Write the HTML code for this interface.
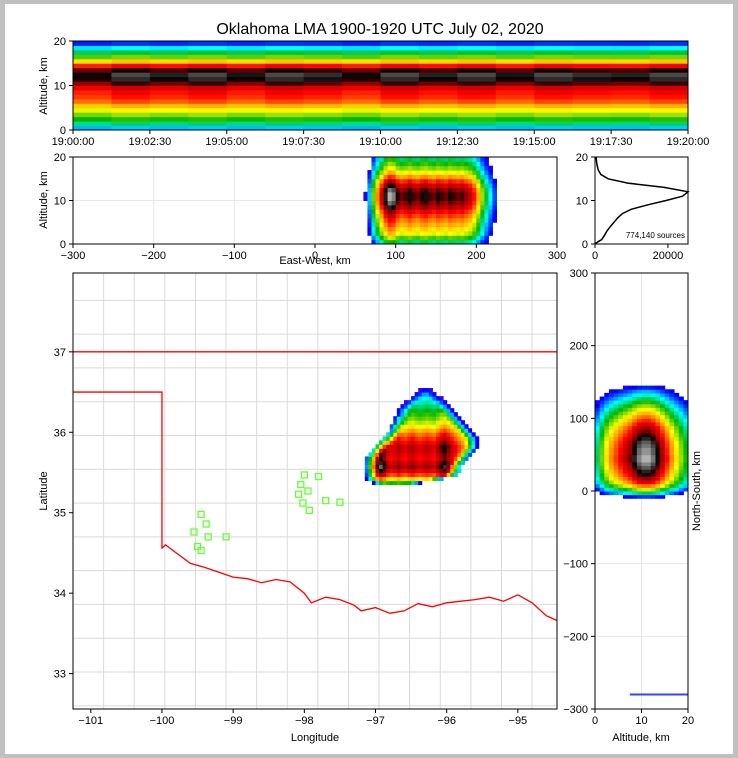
<!DOCTYPE html>
<html><head><meta charset="utf-8">
<style>
html,body{margin:0;padding:0;background:#c0c0c0;}
#wrap{position:absolute;left:5px;top:4px;width:728px;height:750px;background:#fff;}
svg{position:absolute;left:0;top:0;}
text{font-family:"Liberation Sans","DejaVu Sans",sans-serif;font-size:11px;fill:#000;}
</style></head>
<body>
<div id="wrap"></div>
<svg id="s" width="738" height="758"></svg>
<script>
// ---------- data ----------
const timeTicks=["19:00:00","19:02:30","19:05:00","19:07:30","19:10:00","19:12:30","19:15:00","19:17:30","19:20:00"];
const timeActivity=[0.95,1,0.97,1,0.96,1,0.98,0.95,1,0.97,1,0.96,1,0.98,0.97,1];
const topAltDensity=[0.2,0.28,0.34,0.4,0.46,0.52,0.6,0.64,0.66,0.7,0.8,0.86,0.88,0.82,0.66,0.5,0.38,0.3,0.22,0.14];
const ewBins=[60,65,70,75,80,85,90,95,100,105,110,115,120,125,130,135,140,145,150,155,160,165,170,175,180,185,190,195,200,205,210,215,220,225];
const ewProfile=[0.1,0.2,0.38,0.55,0.7,0.85,0.95,0.92,0.82,0.78,0.8,0.84,0.8,0.78,0.82,0.84,0.8,0.78,0.82,0.8,0.78,0.82,0.8,0.78,0.8,0.76,0.72,0.64,0.52,0.4,0.3,0.22,0.15,0.08];
const ewAltProfile=[0.35,0.45,0.55,0.6,0.65,0.7,0.76,0.82,0.9,0.96,1,1,0.96,0.88,0.78,0.66,0.56,0.48,0.42,0.36];
const histAlt=[0,0.5,1,2,3,4,5,6,7,8,9,10,11,12,13,14,15,16,17,18,19,20];
const histCount=[0,800,1800,2600,3300,4200,5200,6200,7500,10000,14500,19500,24000,25500,19000,9000,3600,1600,900,600,400,300];
const lonBins=[-97.15,-97.1,-97.05,-97,-96.95,-96.9,-96.85,-96.8,-96.75,-96.7,-96.65,-96.6,-96.55,-96.5,-96.45,-96.4,-96.35,-96.3,-96.25,-96.2,-96.15,-96.1,-96.05,-96,-95.95,-95.9,-95.85,-95.8,-95.75,-95.7,-95.65,-95.6];
const lonProfile=[0.55,0.7,0.82,0.92,0.98,0.92,0.82,0.78,0.8,0.84,0.8,0.78,0.82,0.84,0.8,0.78,0.8,0.82,0.8,0.78,0.84,0.9,0.94,0.88,0.82,0.76,0.7,0.64,0.58,0.52,0.46,0.4];
const latBins=[35.35,35.4,35.45,35.5,35.55,35.6,35.65,35.7,35.75,35.8,35.85,35.9,35.95,36.0,36.05,36.1,36.15,36.2,36.25,36.3,36.35,36.4,36.45,36.5,36.55];
const latProfile=[0.45,0.65,0.82,0.92,1,0.95,0.9,0.92,0.95,0.96,0.9,0.84,0.78,0.7,0.62,0.56,0.5,0.46,0.42,0.38,0.34,0.3,0.26,0.22,0.18];
const latRowWest=[-97.05,-97.15,-97.15,-97.15,-97.15,-97.15,-97.15,-97.1,-97.05,-97.0,-96.95,-96.9,-96.85,-96.8,-96.8,-96.75,-96.75,-96.7,-96.7,-96.65,-96.6,-96.55,-96.5,-96.45,-96.35];
const latRowEast=[-96.4,-96.1,-95.9,-95.85,-95.85,-95.8,-95.75,-95.7,-95.65,-95.6,-95.6,-95.6,-95.65,-95.7,-95.75,-95.8,-95.85,-95.9,-95.95,-96.0,-96.05,-96.1,-96.15,-96.2,-96.25];
const nsBins=[-10,-5,0,5,10,15,20,25,30,35,40,45,50,55,60,65,70,75,80,85,90,95,100,105,110,115,120,125,130,135,140];
const nsProfile=[0.15,0.3,0.45,0.6,0.72,0.8,0.86,0.9,0.94,0.97,1,1,0.98,0.98,0.96,0.94,0.9,0.86,0.82,0.78,0.72,0.66,0.6,0.54,0.48,0.42,0.36,0.3,0.25,0.2,0.14];
const nsAltProfile=[0.3,0.4,0.5,0.58,0.64,0.7,0.76,0.82,0.9,0.97,1,1,0.96,0.88,0.78,0.68,0.58,0.5,0.42,0.35];
const stationLon=[-99.45,-99.38,-99.55,-99.35,-99.5,-99.45,-99.1,-98.0,-98.05,-98.08,-97.93,-97.8,-97.7,-97.95,-98.02,-97.5];
const stationLat=[34.98,34.86,34.76,34.7,34.58,34.53,34.7,35.47,35.35,35.23,35.03,35.45,35.15,35.27,35.12,35.13];
const riverLon=[-100,-99.95,-99.8,-99.6,-99.4,-99.2,-99.0,-98.8,-98.6,-98.4,-98.2,-98.0,-97.9,-97.7,-97.5,-97.3,-97.2,-97.0,-96.8,-96.6,-96.4,-96.2,-96.0,-95.8,-95.6,-95.4,-95.2,-95.0,-94.8,-94.6,-94.45];
const riverLat=[34.56,34.6,34.5,34.37,34.32,34.26,34.2,34.18,34.13,34.17,34.14,34.0,33.88,33.95,33.92,33.85,33.78,33.82,33.75,33.78,33.87,33.83,33.88,33.9,33.92,33.95,33.9,33.98,33.88,33.72,33.66];
const latTicks=[33,34,35,36,37];
const lonTicks=[-101,-100,-99,-98,-97,-96,-95];

// ---------- helpers ----------
const S=document.getElementById('s');const NS='http://www.w3.org/2000/svg';
function mk(tag,at,parent){const e=document.createElementNS(NS,tag);for(const k in at)e.setAttribute(k,at[k]);(parent||S).appendChild(e);return e;}
const stops=[[0,[192,0,255]],[0.12,[0,0,255]],[0.22,[0,255,255]],[0.32,[0,180,0]],[0.45,[255,255,0]],[0.55,[255,140,0]],[0.65,[255,0,0]],[0.76,[150,0,0]],[0.83,[0,0,0]],[0.92,[130,130,130]],[1,[255,255,255]]];
function cmap(t){t=Math.max(0,Math.min(1,t));for(let i=1;i<stops.length;i++){if(t<=stops[i][0]){const a=stops[i-1],b=stops[i],f=(t-a[0])/(b[0]-a[0]);const c=a[1].map((v,k)=>Math.round(v+(b[1][k]-v)*f));return 'rgb('+c.join(',')+')';}}return '#fff';}
function lin(d0,d1,r0,r1){return v=>r0+(v-d0)/(d1-d0)*(r1-r0);}
function txt(x,y,s,opt){const t=mk('text',Object.assign({x:x,y:y},opt||{}));t.textContent=s;return t;}
function frame(x0,y0,x1,y1,name){const r=mk('rect',{x:x0,y:y0,width:x1-x0,height:y1-y0,fill:'none',stroke:'#000','stroke-width':1});}
function tickX(x,y,label,name){mk('line',{x1:x,x2:x,y1:y,y2:y+4,stroke:'#000'});const t=txt(x,y+15,label,{'text-anchor':'middle'});}
function tickY(x,y,label,name){mk('line',{x1:x-4,x2:x,y1:y,y2:y,stroke:'#000'});const t=txt(x-7,y+4,label,{'text-anchor':'end'});}
function grid(x1,y1,x2,y2){mk('line',{x1:x1,y1:y1,x2:x2,y2:y2,stroke:'#e8e8e8','stroke-width':1});}

const title=txt(380,34,'Oklahoma LMA 1900-1920 UTC July 02, 2020',{'text-anchor':'middle',style:'font-size:16px'});


// ---------- top panel ----------
{const X=lin(0,timeActivity.length,73,688),Y=lin(0,20,130,41);
const g=mk('g',{});
for(let i=0;i<timeActivity.length;i++)for(let j=0;j<topAltDensity.length;j++){
 mk('rect',{x:X(i),y:Y(j+1),width:X(i+1)-X(i)+0.5,height:Y(j)-Y(j+1)+0.5,fill:cmap(topAltDensity[j]*timeActivity[i])},g);}
const Xt=lin(0,timeTicks.length-1,73,688);
timeTicks.forEach((t,i)=>tickX(Xt(i),130,t,'time-tick-label'));
[0,10,20].forEach(v=>tickY(73,Y(v),String(v),'top-alt-tick'));
frame(73,41,688,130,'time-height-panel');
const yl=txt(47,86,'Altitude, km',{'text-anchor':'middle',transform:'rotate(-90 47 86)'});}

// ---------- EW panel ----------
{const X=lin(-300,300,73,557),Y=lin(0,20,244,157);
[-200,-100,0,100,200].forEach(v=>grid(X(v),157,X(v),244));grid(73,Y(10),557,Y(10));
const g=mk('g',{});
for(let i=0;i<ewBins.length;i++)for(let j=0;j<ewAltProfile.length;j++){
 const d=ewProfile[i]*ewAltProfile[j];if(d<0.1)continue;
 mk('rect',{x:X(ewBins[i]),y:Y(j+1),width:X(ewBins[i]+5)-X(ewBins[i])+0.5,height:Y(j)-Y(j+1)+0.5,fill:cmap(d)},g);}
[-300,-200,-100,0,100,200,300].forEach(v=>tickX(X(v),244,String(v).replace('-','−'),'ew-tick-label'));
[0,10,20].forEach(v=>tickY(73,Y(v),String(v),'ew-alt-tick'));
frame(73,157,557,244,'east-west-panel');
const xl=txt(315,264,'East-West, km',{'text-anchor':'middle'});
const yl=txt(47,200,'Altitude, km',{'text-anchor':'middle',transform:'rotate(-90 47 200)'});}

// ---------- histogram ----------
{const X=lin(0,25500,595,688),Y=lin(0,20,244,157);
let d='';histAlt.forEach((a,i)=>{d+=(i?'L':'M')+X(histCount[i]).toFixed(1)+','+Y(a).toFixed(1);});
const p=mk('path',{d:d,fill:'none',stroke:'#000','stroke-width':1.5});
[0,20000].forEach(v=>tickX(X(v),244,String(v),'hist-tick-label'));
[0,10,20].forEach(v=>tickY(595,Y(v),String(v),'hist-alt-tick'));
frame(595,157,688,244,'altitude-histogram-panel');
const t=txt(685,238,'774,140 sources',{'text-anchor':'end',style:'font-size:8px'});}

// ---------- map ----------
{const X=lin(-101.25,-94.45,73,557),Y=lin(32.56,37.98,709,273);
const g=mk('g',{});
for(let lo=-101.25;lo<-94.5;lo+=0.43)mk('line',{x1:X(lo),x2:X(lo),y1:273,y2:709,stroke:'#dadada','stroke-width':1},g);
for(let la=32.6;la<38;la+=0.42)mk('line',{x1:73,x2:557,y1:Y(la),y2:Y(la),stroke:'#dadada','stroke-width':1},g);
const hg=mk('g',{});
for(let j=0;j<latBins.length;j++)for(let i=0;i<lonBins.length;i++){
 const lo=lonBins[i];if(lo<latRowWest[j]||lo>latRowEast[j])continue;
 const edge=Math.min(lo-latRowWest[j],latRowEast[j]-lo);
 const fall=Math.min(1,0.35+edge/0.25);
 const d=lonProfile[i]*latProfile[j]*fall*0.92;if(d<0.08)continue;
 mk('rect',{x:X(lo),y:Y(latBins[j]+0.05),width:X(lo+0.05)-X(lo)+0.5,height:Y(latBins[j])-Y(latBins[j]+0.05)+0.5,fill:cmap(d)},hg);}
let d='M'+X(-101.25)+','+Y(36.5)+'L'+X(-100)+','+Y(36.5)+'L'+X(-100)+','+Y(34.56);
riverLon.forEach((lo,i)=>{d+='L'+X(lo).toFixed(1)+','+Y(riverLat[i]).toFixed(1);});
const b=mk('path',{d:d,fill:'none',stroke:'#f00','stroke-width':1.3});
const nb=mk('line',{x1:73,x2:557,y1:Y(37),y2:Y(37),stroke:'#f00','stroke-width':1.3});
stationLon.forEach((lo,i)=>{const r=mk('rect',{x:X(lo)-3,y:Y(stationLat[i])-3,width:6,height:6,fill:'none',stroke:'#66ff33','stroke-width':1.3});});
lonTicks.forEach(v=>tickX(X(v),709,String(v).replace('-','−'),'longitude-tick-label'));
latTicks.forEach(v=>tickY(73,Y(v),String(v),'latitude-tick-label'));
frame(73,273,557,709,'map-panel');
const xl=txt(315,741,'Longitude',{'text-anchor':'middle'});
const yl=txt(47,491,'Latitude',{'text-anchor':'middle',transform:'rotate(-90 47 491)'});}

// ---------- NS panel ----------
{const X=lin(0,20,595,688),Y=lin(-300,300,709,273);
[-200,-100,0,100,200].forEach(v=>grid(595,Y(v),688,Y(v)));grid(X(10),273,X(10),709);
const g=mk('g',{});
for(let i=0;i<nsBins.length;i++)for(let j=0;j<nsAltProfile.length;j++){
 const d=nsProfile[i]*nsAltProfile[j]*0.95;if(d<0.1)continue;
 mk('rect',{x:X(j),y:Y(nsBins[i]+5),width:X(j+1)-X(j)+0.5,height:Y(nsBins[i])-Y(nsBins[i]+5)+0.5,fill:cmap(d)},g);}
const f=mk('line',{x1:X(7.5),x2:X(20),y1:Y(-280),y2:Y(-280),stroke:'#3344ff','stroke-width':2});
[0,10,20].forEach(v=>tickX(X(v),709,String(v),'ns-alt-tick-label'));
[-300,-200,-100,0,100,200,300].forEach(v=>tickY(595,Y(v),String(v).replace('-','−'),'ns-tick-label'));
frame(595,273,688,709,'north-south-panel');
const xl=txt(641,741,'Altitude, km',{'text-anchor':'middle'});
const yl=txt(700,491,'North-South, km',{'text-anchor':'middle',transform:'rotate(-90 700 491)'});}
</script>
</body></html>
